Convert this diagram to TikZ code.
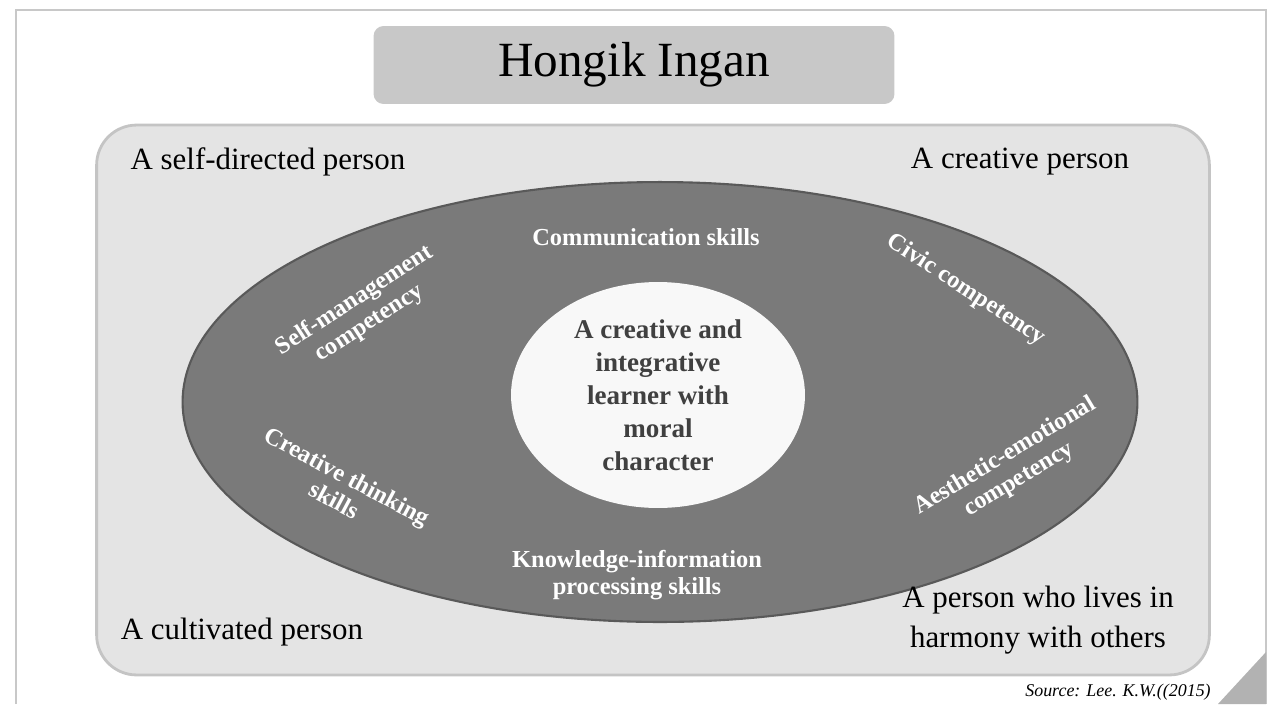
\documentclass[tikz,border=0pt]{standalone}
\usepackage{fontspec}
\setmainfont{Liberation Serif}
\usetikzlibrary{shapes.geometric}

\definecolor{framegray}{HTML}{C8C8C8}
\definecolor{cornergray}{HTML}{B2B2B2}
\definecolor{titlegray}{HTML}{C8C8C8}
\definecolor{boardgray}{HTML}{E4E4E4}
\definecolor{boardline}{HTML}{C4C4C4}
\definecolor{ringgray}{HTML}{7A7A7A}
\definecolor{ringline}{HTML}{595959}
\definecolor{coregray}{HTML}{F8F8F8}
\definecolor{coretext}{HTML}{404040}

\begin{document}
\begin{tikzpicture}[x=0.02cm,y=-0.02cm,
    person/.style={font=\fontsize{17.6}{22.8}\selectfont, align=center},
    skill/.style={text=white, font=\bfseries\fontsize{13.9}{15.4}\selectfont, align=center}]

      \useasboundingbox (0,0) rectangle (1274,704);
      \draw[framegray, line width=0.6pt] (16,704) -- (16,10) -- (1266,10) -- (1266,704);
      \fill[cornergray] (1218,704) -- (1266,652) -- (1266,704) -- cycle;

      \node[fill=titlegray, rounded corners=0.2cm, minimum width=10.42cm, minimum height=1.56cm,
            font=\fontsize{28}{32}\selectfont] (title) at (634,65) {Hongik Ingan};

      \node[fill=boardgray, draw=boardline, line width=1.6pt, rounded corners=0.8cm,
            minimum width=22.26cm, minimum height=11cm] (board) at (653,400) {};
      \node[ellipse, fill=ringgray, draw=ringline, line width=1.2pt, inner sep=0pt,
            minimum width=19.1cm, minimum height=8.8cm] (ring) at (660,402) {};
      \node[ellipse, fill=coregray, inner sep=0pt,
            minimum width=5.88cm, minimum height=4.52cm] (core) at (658,395) {};

      \begin{scope}[every node/.style={person}]
        \node (selfdir)    at (268,162) {A self-directed person};
        \node (creative)   at (1020,162) {A creative person};
        \node (cultivated) at (242,632) {A cultivated person};
        \node (harmony)    at (1038,620) {A person who lives in\\harmony with others};
      \end{scope}

      \begin{scope}[every node/.style={skill}]
        \node (comm)    at (646,237) {Communication skills};
        \node (know)    at (637,575) {Knowledge-information\\processing skills};
        \node[rotate=33]  (selfman) at (362,312) {Self-management\\competency};
        \node[rotate=-33] (civic)   at (966,290) {Civic competency};
        \node[rotate=-28] (think)   at (341,488) {Creative thinking\\skills};
        \node[rotate=31]  (aesth)   at (1012,468) {Aesthetic-emotional\\competency};
      \end{scope}

      \node[text=coretext, align=center, font=\bfseries\fontsize{15.4}{18.8}\selectfont]
        (learner) at (core) {A creative and\\integrative\\learner with\\moral\\character};

      \node[font=\itshape\fontsize{10.2}{12}\selectfont] (source) at (1118,692) {Source: Lee. K.W.((2015)};

    \end{tikzpicture}
\end{document}
